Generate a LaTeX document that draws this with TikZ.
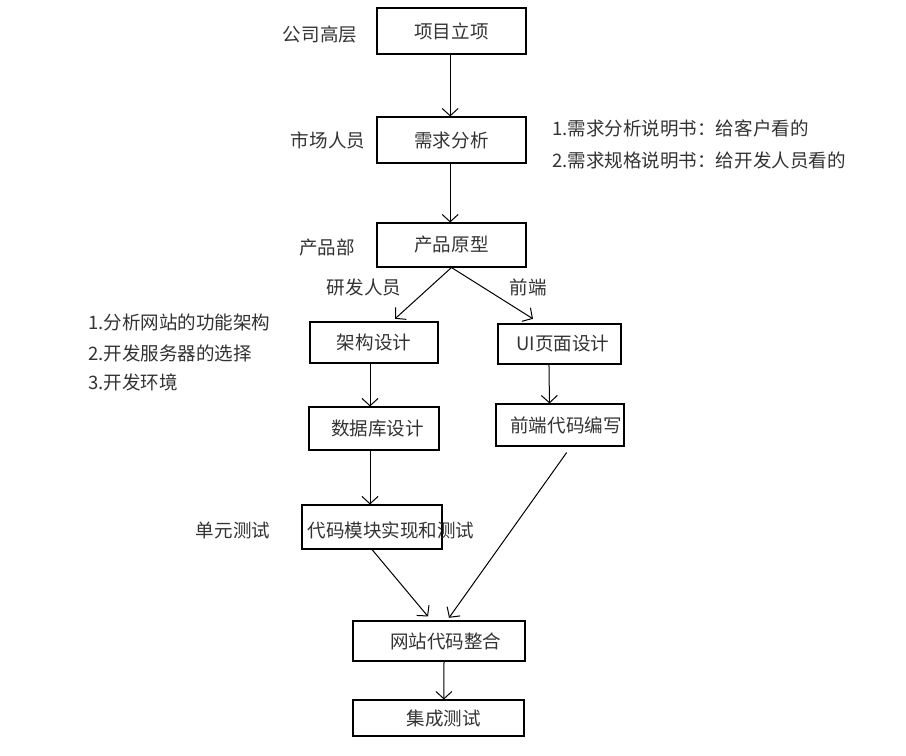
\documentclass[tikz,border=0pt]{standalone}
\usepackage{fontspec}
\setmainfont{Noto Sans CJK SC}
\usetikzlibrary{arrows.meta}
\definecolor{txt}{HTML}{333333}
\tikzset{
  every node/.style={font=\fontsize{13.9pt}{16pt}\selectfont, text=txt},
  box/.style={draw=black, line width=0.8pt, inner sep=0pt},
  conn/.style={draw=black, line width=0.75pt, -{Straight Barb[length=5.5pt,width=12pt,line width=0.75pt]}},
  note/.style={anchor=west, inner sep=0pt},
}
\begin{document}
\begin{tikzpicture}[x=0.75pt,y=-0.75pt]
\useasboundingbox (0,0) rectangle (906,756);
\fill[white] (0,0) rectangle (906,756);
% boxes
\node[box, minimum width=111.75pt, minimum height=34.5pt] (p1) at (451.5,31) {项目立项};
\node[box, minimum width=111.75pt, minimum height=34.5pt] (p2) at (451.5,140) {需求分析};
\node[box, minimum width=111.75pt, minimum height=33pt] (p3) at (451.5,245) {产品原型};
\node[box, minimum width=96pt, minimum height=30.75pt] (p4) at (374,342.5) {架构设计};
\node[box, minimum width=92.25pt, minimum height=30pt] (p5) at (559.5,344) {\hspace{5pt}UI页面设计};
\node[box, minimum width=97.5pt, minimum height=32.25pt] (p6) at (374,428.5) {\hspace{5pt}数据库设计};
\node[box, minimum width=96pt, minimum height=31.5pt] (p7) at (560,425) {\hspace{9pt}前端代码编写};
\node[box, minimum width=105pt, minimum height=33pt] (p8) at (372,527) {};
\node[inner sep=0pt] (t8) at (391,530) {代码模块实现和测试};
\node[box, minimum width=129pt, minimum height=30pt] (p9) at (439,641) {\hspace{10pt}网站代码整合};
\node[box, minimum width=128.25pt, minimum height=27pt] (p10) at (438.5,718) {\hspace{8pt}集成测试};
% side labels
\node (l1) at (320,35) {公司高层};
\node (l2) at (328,140) {市场人员};
\node (l3) at (327,247) {产品部};
\node (l4) at (364,287) {研发人员};
\node (l5) at (528,287) {前端};
\node (l6) at (233,530) {单元测试};
% notes
\node[note] (n1) at (552,128) {1.需求分析说明书：给客户看的};
\node[note] (n2) at (552,160) {2.需求规格说明书：给开发人员看的};
\node[note] (n3) at (88,322) {1.分析网站的功能架构};
\node[note] (n4) at (88,353) {2.开发服务器的选择};
\node[note] (n5) at (88,382) {3.开发环境};
% connectors
\draw[conn] ([xshift=-1pt]p1.south) -- ([xshift=-1pt]p2.north);
\draw[conn] ([xshift=-1pt]p2.south) -- ([xshift=-1pt]p3.north);
\draw[conn] (p3.south) -- ([xshift=15.75pt,yshift=2pt]p4.north);
\draw[conn] (p3.south) -- ([xshift=-19.9pt,yshift=3.5pt]p5.north);
\draw[conn] ([xshift=-3pt]p4.south) -- ([xshift=-3pt]p6.north);
\draw[conn] ([xshift=-7.9pt]p5.south) -- ([xshift=-7.9pt]p7.north);
\draw[conn] ([xshift=-3pt]p6.south) -- ([xshift=-1.5pt]p8.north);
\draw[conn] (p8.south) -- ([xshift=-8.25pt,yshift=3pt]p9.north);
\draw[conn] ([xshift=5pt,yshift=-4.5pt]p7.south) -- ([xshift=7.5pt,yshift=2pt]p9.north);
\draw[conn] ([xshift=3.75pt]p9.south) -- ([xshift=4pt]p10.north);
\end{tikzpicture}
\end{document}
